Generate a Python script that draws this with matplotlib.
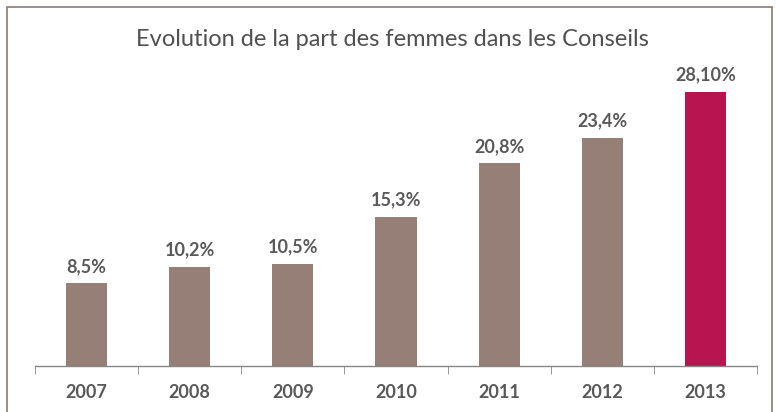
import matplotlib
matplotlib.use("Agg")
import matplotlib.pyplot as plt
from matplotlib.patches import Rectangle

years = ["2007", "2008", "2009", "2010", "2011", "2012", "2013"]
values = [8.5, 10.2, 10.5, 15.3, 20.8, 23.4, 28.1]
labels = ["8,5%", "10,2%", "10,5%", "15,3%", "20,8%", "23,4%", "28,10%"]
colors = ["#957f76"] * 6 + ["#b81450"]

plt.rcParams['font.family'] = ['Lato', 'DejaVu Sans']
fig = plt.figure(figsize=(7.84, 4.12), dpi=100)
fig.patches.append(Rectangle((7/784, -0.02), (772-7)/784, (412-7)/412 + 0.02,
                             transform=fig.transFigure, fill=False,
                             edgecolor="#8a7a74", linewidth=1.2))
ax = fig.add_axes([35/784, 46/412, (757-35)/784, (366-60)/412])
x = list(range(len(years)))
ax.bar(x, values, width=0.4, color=colors)
for xi, v, lab in zip(x, values, labels):
    ax.text(xi, v + 0.85, lab, ha='center', va='bottom', fontsize=13,
            fontweight='bold', color='#595959')
ax.set_xlim(-0.5, len(years) - 0.5)
ax.set_ylim(0, 306 / 9.75)
ax.set_yticks([])
ax.set_xticks([i - 0.5 for i in range(len(years) + 1)], minor=True)
ax.set_xticks(x)
ax.set_xticklabels(years, fontsize=13, fontweight='bold', color='#595959')
ax.tick_params(axis='x', which='major', length=0, pad=13)
ax.tick_params(axis='x', which='minor', length=6, color='#868686', direction='out')
for s in ['top', 'right', 'left']:
    ax.spines[s].set_visible(False)
ax.spines['bottom'].set_color('#868686')
ax.spines['bottom'].set_linewidth(1)
fig.text(392/784, 1 - 40/412, "Evolution de la part des femmes dans les Conseils",
         ha='center', va='center', fontsize=17, color='#505050')
fig.savefig("out.png", dpi=100)
